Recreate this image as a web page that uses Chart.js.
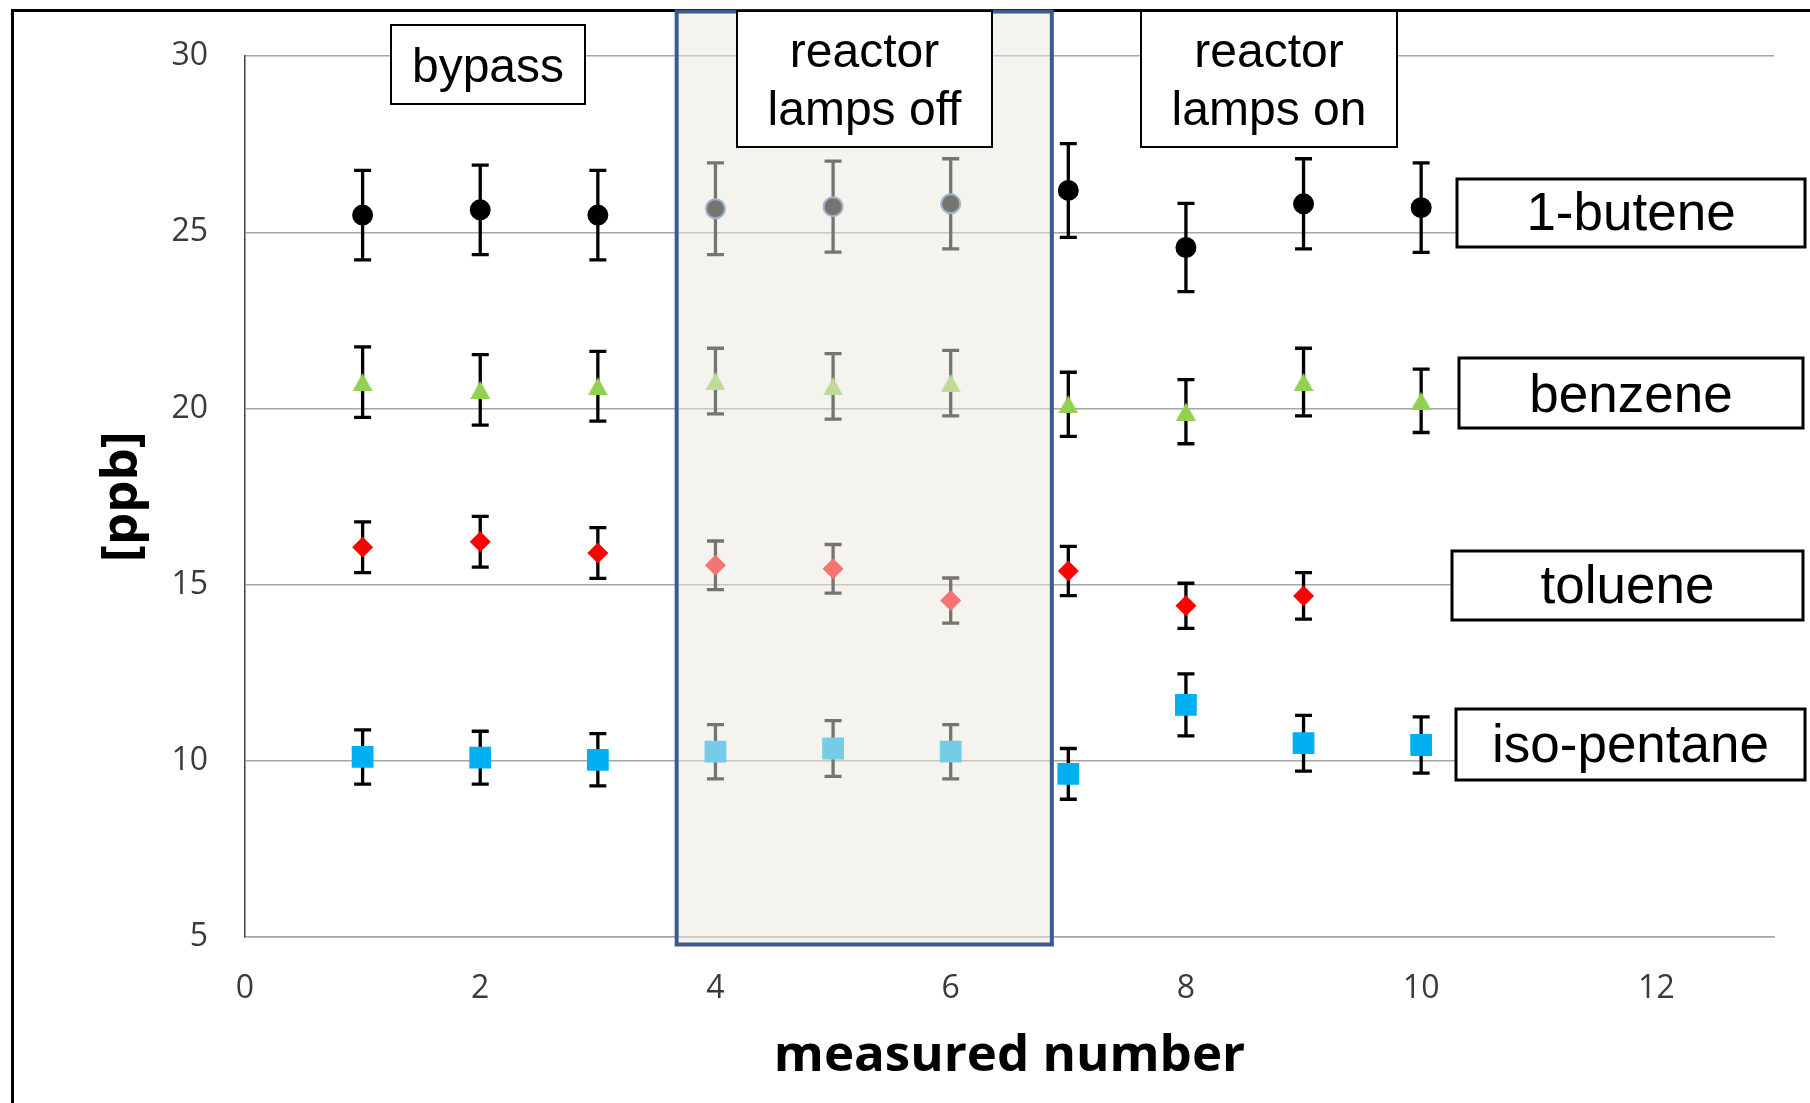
<!DOCTYPE html>
<html>
<head>
<meta charset="utf-8">
<title>measured concentrations</title>
<script src="https://cdn.jsdelivr.net/npm/chart.js@4.4.1/dist/chart.umd.min.js"></script>
<style>
  html, body { margin: 0; padding: 0; background: #fff; }
  canvas { display: block; }
</style>
</head>
<body>
<canvas id="ppbChart" width="1810" height="1103"></canvas>
<script>
// --- data ---
const measurement = [1, 2, 3, 4, 5, 6, 7, 8, 9, 10];
const seriesNames = ['1-butene', 'benzene', 'toluene', 'iso-pentane'];

const butene      = [25.49, 25.64, 25.49, 25.67, 25.73, 25.81, 26.19, 24.57, 25.81, 25.70];
const buteneErr   = [1.27, 1.27, 1.27, 1.30, 1.29, 1.28, 1.33, 1.25, 1.28, 1.27];
const benzene     = [20.75, 20.53, 20.63, 20.78, 20.63, 20.72, 20.12, 19.91, 20.75, 20.22];
const benzeneErr  = [1.00, 1.00, 0.99, 0.93, 0.93, 0.93, 0.91, 0.91, 0.96, 0.90];
const toluene     = [16.06, 16.22, 15.90, 15.55, 15.45, 14.55, 15.39, 14.40, 14.68, null];
const tolueneErr  = [0.72, 0.72, 0.72, 0.69, 0.69, 0.64, 0.70, 0.64, 0.66, null];
const isoPentane  = [10.11, 10.09, 10.03, 10.26, 10.35, 10.26, 9.63, 11.59, 10.50, 10.45];
const isoPentaneErr = [0.77, 0.75, 0.74, 0.77, 0.79, 0.77, 0.72, 0.88, 0.79, 0.80];

const xTicks = [0, 2, 4, 6, 8, 10, 12];
const yTicks = [5, 10, 15, 20, 25, 30];

// measurements taken with the reactor lamps off (x range of the shaded window)
const lampsOffRange = [3.67, 6.86];

// --- helpers ---
function points(values) {
    return measurement.map((m, i) => ({ x: m, y: values[i] })).filter(p => p.y != null);
}
function errs(values, errors) {
    return errors.filter((e, i) => values[i] != null);
}

// green triangle marker, drawn centred on its bounding box
const triangle = document.createElement('canvas');
triangle.width = 20; triangle.height = 18;
(function () {
    const c = triangle.getContext('2d');
    c.fillStyle = '#92D050';
    c.beginPath();
    c.moveTo(10, 0); c.lineTo(20, 18); c.lineTo(0, 18);
    c.closePath();
    c.fill();
})();

const offIdx = i => measurement[i] > lampsOffRange[0] && measurement[i] < lampsOffRange[1];

// --- plugins ---
const frame = {
    id: 'frame',
    beforeDraw(chart) {
        const ctx = chart.ctx;
        ctx.save();
        ctx.fillStyle = '#fff';
        ctx.fillRect(0, 0, chart.width, chart.height);
        ctx.strokeStyle = '#000';
        ctx.lineWidth = 3;
        ctx.strokeRect(12.5, 10.5, chart.width + 100, chart.height + 100);
        ctx.restore();
    }
};

const errorBars = {
    id: 'errorBars',
    beforeDatasetsDraw(chart) {
        const { ctx, scales: { y } } = chart;
        ctx.save();
        ctx.strokeStyle = '#000';
        ctx.lineWidth = 3.3;
        chart.data.datasets.forEach((ds, i) => {
            const meta = chart.getDatasetMeta(i);
            meta.data.forEach((pt, j) => {
                const v = ds.data[j].y, e = ds.errors[j];
                const top = y.getPixelForValue(v + e);
                const bot = y.getPixelForValue(v - e);
                ctx.beginPath();
                ctx.moveTo(pt.x, top); ctx.lineTo(pt.x, bot);
                ctx.moveTo(pt.x - 8.5, top); ctx.lineTo(pt.x + 8.5, top);
                ctx.moveTo(pt.x - 8.5, bot); ctx.lineTo(pt.x + 8.5, bot);
                ctx.stroke();
            });
        });
        ctx.restore();
    }
};

// label boxes: bypass / lamps off / lamps on on top, series names on the right
const boxLabels = [
    { lines: ['bypass'], rect: [391, 25, 585, 104], size: 48, border: 2, baselines: [82] },
    { lines: ['reactor', 'lamps off'], rect: [737, 11, 992, 147], size: 48, border: 2, baselines: [67, 125] },
    { lines: ['reactor', 'lamps on'], rect: [1141, 11, 1397, 147], size: 48, border: 2, baselines: [67, 125] },
    { lines: [seriesNames[0]], rect: [1457, 179, 1805, 247], size: 53, border: 3, baselines: [230] },
    { lines: [seriesNames[1]], rect: [1459, 358, 1803, 428], size: 53, border: 3, baselines: [412] },
    { lines: [seriesNames[2]], rect: [1452, 551, 1803, 620], size: 53, border: 3, baselines: [603] },
    { lines: [seriesNames[3]], rect: [1456, 709, 1805, 780], size: 53, border: 3, baselines: [762] }
];

const overlays = {
    id: 'overlays',
    afterDraw(chart) {
        const { ctx, chartArea, scales: { x } } = chart;
        ctx.save();
        // lamps-off window: translucent fill over the points, blue frame
        const left = x.getPixelForValue(lampsOffRange[0]);
        const right = x.getPixelForValue(lampsOffRange[1]);
        const top = 11.5, bottom = chartArea.bottom + 7.5;
        ctx.fillStyle = 'rgba(233, 231, 221, 0.5)';
        ctx.fillRect(left, top, right - left, bottom - top);
        ctx.strokeStyle = '#3c5b8b';
        ctx.lineWidth = 4;
        ctx.strokeRect(left, top, right - left, bottom - top);

        boxLabels.forEach(b => {
            const [x0, y0, x1, y1] = b.rect;
            ctx.fillStyle = '#fff';
            ctx.fillRect(x0, y0, x1 - x0, y1 - y0);
            ctx.strokeStyle = '#000';
            ctx.lineWidth = b.border;
            ctx.strokeRect(x0, y0, x1 - x0, y1 - y0);
            ctx.fillStyle = '#000';
            ctx.font = b.size + 'px "Liberation Sans", Arial, sans-serif';
            ctx.textAlign = 'center';
            ctx.textBaseline = 'alphabetic';
            b.lines.forEach((t, k) => ctx.fillText(t, (x0 + x1) / 2, b.baselines[k]));
        });
        ctx.restore();
    }
};

// --- chart ---
const tickFont = { family: '"Open Sans", sans-serif', size: 32 };
const titleFont = { family: '"Open Sans", sans-serif', size: 51, weight: 'bold' };

new Chart(document.getElementById('ppbChart'), {
    type: 'scatter',
    data: {
        datasets: [
            {
                label: seriesNames[0], data: points(butene), errors: errs(butene, buteneErr),
                pointStyle: 'circle', pointRadius: 9.5, pointBorderWidth: 2,
                backgroundColor: '#000',
                borderColor: measurement.map((m, i) => offIdx(i) ? '#4f81bd' : '#000')
            },
            {
                label: seriesNames[1], data: points(benzene), errors: errs(benzene, benzeneErr),
                pointStyle: triangle, pointRadius: 10
            },
            {
                label: seriesNames[2], data: points(toluene), errors: errs(toluene, tolueneErr),
                pointStyle: 'rectRot', pointRadius: 10.5, pointBorderWidth: 0,
                backgroundColor: '#ff0000', borderColor: '#ff0000'
            },
            {
                label: seriesNames[3], data: points(isoPentane), errors: errs(isoPentane, isoPentaneErr),
                pointStyle: 'rect', pointRadius: 15.4, pointBorderWidth: 0,
                backgroundColor: '#00b0f0', borderColor: '#00b0f0'
            }
        ]
    },
    options: {
        responsive: false,
        animation: false,
        devicePixelRatio: 1,
        layout: { padding: { top: 54, right: 36, bottom: 0, left: 0 } },
        plugins: { legend: { display: false }, tooltip: { enabled: false } },
        scales: {
            x: {
                type: 'linear', min: 0, max: 13,
                afterBuildTicks: s => { s.ticks = xTicks.map(value => ({ value })); },
                afterFit: s => { s.height = 166; },
                grid: { display: false, drawTicks: false },
                border: { color: '#a6a6a6', width: 1.5 },
                ticks: { padding: 33, font: tickFont, color: '#3a3a3a', maxRotation: 0 },
                title: { display: true, text: 'measured number', font: titleFont, color: '#000', padding: { top: 0, bottom: 16 } }
            },
            y: {
                min: 5, max: 30,
                afterBuildTicks: s => { s.ticks = yTicks.map(value => ({ value })); },
                afterFit: s => { s.width = 245; },
                grid: { color: '#a6a6a6', lineWidth: 1.5, drawTicks: false },
                border: { color: '#404040', width: 1.5 },
                ticks: { padding: 37, font: tickFont, color: '#3a3a3a' },
                title: { display: true, text: '[ppb]', font: titleFont, color: '#000', padding: { top: 92, bottom: 0 } }
            }
        }
    },
    plugins: [frame, errorBars, overlays]
});
</script>
</body>
</html>
